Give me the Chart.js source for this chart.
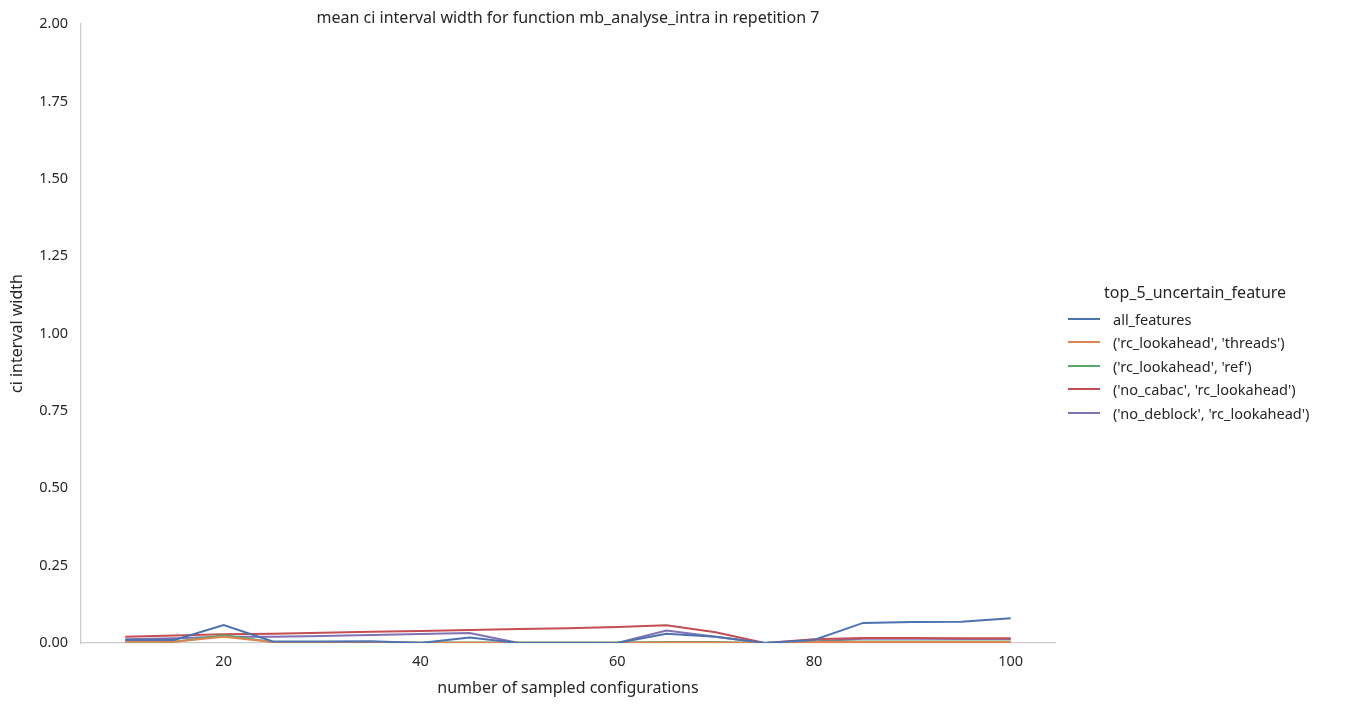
<!DOCTYPE html>
<html><head><meta charset="utf-8">
<script src="https://cdn.jsdelivr.net/npm/chart.js@4"></script>
<style>
body{margin:0;background:#fff;font-family:"Noto Sans",sans-serif;}
#wrap{position:relative;width:1353px;height:706px;}
#title{position:absolute;left:68px;width:1000px;top:6px;text-align:center;font-size:16px;color:#262626;}
#legend{position:absolute;left:1068px;top:281px;font-size:14.5px;color:#262626;}
#legend .t{font-size:16px;margin-left:36px;margin-bottom:4px;}
#legend .r{display:flex;align-items:center;height:23.5px;}
#legend .r span{display:inline-block;width:32px;height:2px;margin-right:13px;}
</style></head>
<body><div id="wrap"><canvas id="c" width="1353" height="706"></canvas>
<div id="title">mean ci interval width for function mb_analyse_intra in repetition 7</div><div id="legend"></div></div>
<script>
// Data
const xs = [10, 15, 20, 25, 30, 35, 40, 45, 50, 55, 60, 65, 70, 75, 80, 85, 90, 95, 100];
const allFeatures = [0.010, 0.010, 0.058, 0.005, 0.005, 0.006, 0.000, 0.018, 0.000, 0.000, 0.000, 0.030, 0.020, 0.000, 0.010, 0.065, 0.068, 0.069, 0.080];
const lookaheadThreads = [0.004, 0.004, 0.020, 0.003, 0.002, 0.002, 0.001, 0.001, 0.001, 0.001, 0.001, 0.002, 0.002, 0.000, 0.003, 0.003, 0.003, 0.003, 0.003];
const lookaheadRef = [0.005, 0.004, 0.025, 0.003, 0.003, 0.003, 0.002, 0.002, 0.002, 0.002, 0.002, 0.003, 0.003, 0.000, 0.004, 0.005, 0.005, 0.005, 0.005];
const cabacLookahead = [0.020, 0.024, 0.028, 0.030, 0.033, 0.036, 0.039, 0.042, 0.045, 0.048, 0.052, 0.057, 0.035, 0.000, 0.012, 0.016, 0.016, 0.015, 0.015];
const deblockLookahead = [0.012, 0.015, 0.020, 0.020, 0.023, 0.026, 0.029, 0.032, 0.000, 0.000, 0.000, 0.040, 0.020, 0.000, 0.005, 0.014, 0.014, 0.013, 0.013];
const names = ["all_features", "('rc_lookahead', 'threads')", "('rc_lookahead', 'ref')", "('no_cabac', 'rc_lookahead')", "('no_deblock', 'rc_lookahead')"];
const colors = ["#4c72b0", "#dd8452", "#55a868", "#c44e52", "#8172b3"];
const series = [allFeatures, lookaheadThreads, lookaheadRef, cabacLookahead, deblockLookahead];

Chart.defaults.font.family = "Noto Sans";
Chart.defaults.color = "#262626";

new Chart(document.getElementById('c'), {
    type: 'line',
    data: {
        datasets: series.map((s, i) => ({
            label: names[i],
            data: s.map((v, j) => ({x: xs[j], y: v})),
            borderColor: colors[i],
            borderWidth: 2,
            pointRadius: 0,
            tension: 0
        }))
    },
    options: {
        responsive: false,
        animation: false,
        layout: {padding: {top: 24, right: 298, left: 4, bottom: 4}},
        plugins: {legend: {display: false}, title: {display: false}},
        scales: {
            x: {type: 'linear', min: 5.5, max: 104.5,
                afterBuildTicks: a => { a.ticks = [20, 40, 60, 80, 100].map(v => ({value: v})); },
                afterFit: a => { a.height = 59; },
                grid: {display: false, drawTicks: false},
                border: {color: '#cccccc', width: 1.3},
                ticks: {font: {size: 14.5}, padding: 10},
                title: {display: true, text: 'number of sampled configurations', font: {size: 16}, padding: {top: 2}}},
            y: {min: 0, max: 2,
                afterFit: a => { a.width = 77; },
                grid: {display: false, drawTicks: false},
                border: {color: '#cccccc', width: 1.3},
                ticks: {stepSize: 0.25, font: {size: 14.5}, padding: 13, callback: v => v.toFixed(2)},
                title: {display: true, text: 'ci interval width', font: {size: 16}, padding: {bottom: 2}}}
        }
    }
});

const lg = document.getElementById('legend');
lg.innerHTML = '<div class="t">top_5_uncertain_feature</div>' +
    names.map((n, i) => `<div class="r"><span style="background:${colors[i]}"></span>${n}</div>`).join('');
</script>
</body></html>
